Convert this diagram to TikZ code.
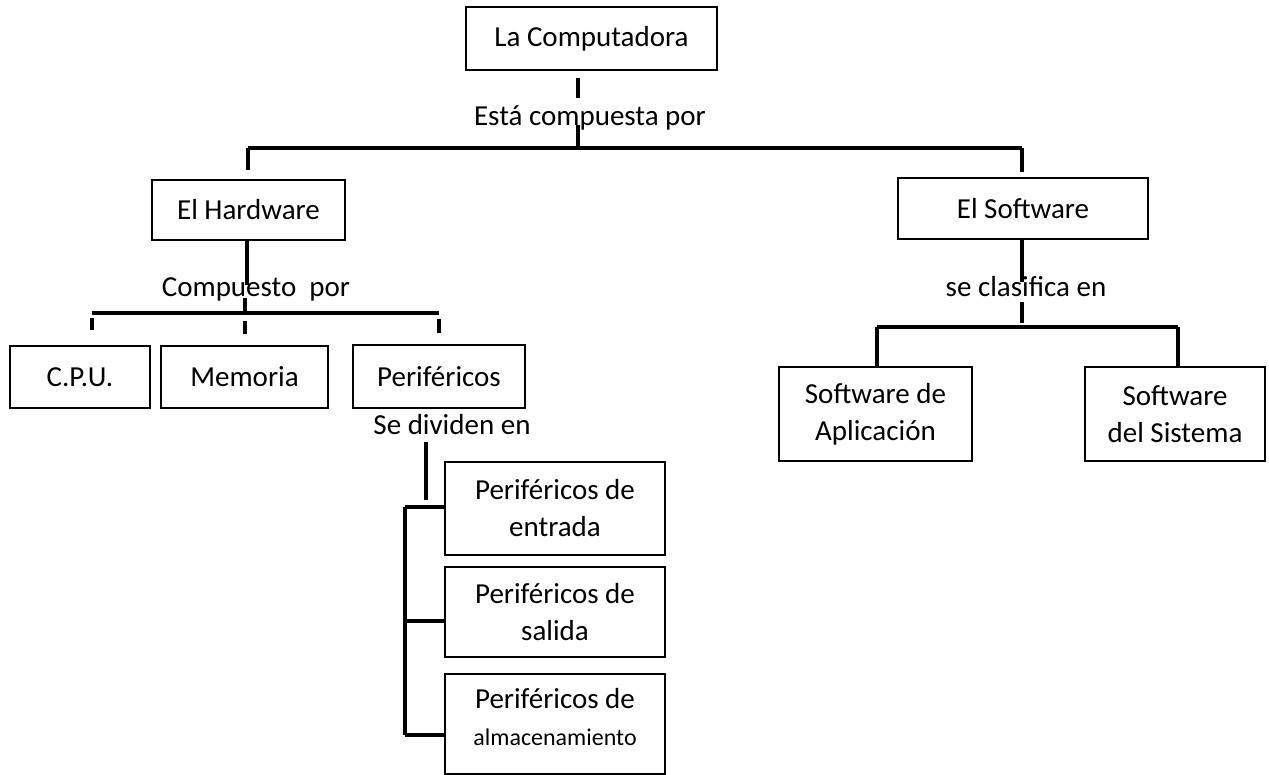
\documentclass[tikz,border=0pt]{standalone}
\usepackage{fontspec}
\setmainfont{Carlito}
\begin{document}
\begin{tikzpicture}[x=1pt,y=-1pt,
		caja/.style={draw, line width=1.5pt, inner sep=0pt, align=center, font=\fontsize{29}{37}\selectfont},
		rotulo/.style={inner sep=0pt, anchor=base, font=\fontsize{29}{37}\selectfont},
		enlace/.style={line width=3.5pt}]
		\useasboundingbox (0,0) rectangle (1269,775);
		
		% cajas
		\node[caja, minimum width=251pt, minimum height=63pt] (compu) at (591.5,38.5) {La Computadora};
		\node[caja, minimum width=193pt, minimum height=60pt] (hard) at (248.5,210) {El Hardware};
		\node[caja, minimum width=250pt, minimum height=61pt] (soft) at (1023,208.5) {El Software};
		
		\node[caja, minimum width=140pt, minimum height=62pt] (cpu) at (80,377) {C.P.U.};
		\node[caja, minimum width=167pt, minimum height=62pt] (memo) at (244.5,377) {Memoria};
		\node[caja, minimum width=172pt, minimum height=63pt] (peri) at (439,376.5) {Periféricos};
		
		\node[caja, minimum width=220pt, minimum height=93pt] (p-entrada) at (555,508.5) {Periféricos de\\entrada};
		\node[caja, minimum width=220pt, minimum height=90pt] (p-salida) at (555,612) {Periféricos de\\salida};
		\node[caja, minimum width=220pt, minimum height=100pt, text depth=14pt] (p-almac) at (555,724) {Periféricos de\\{\fontsize{24}{31}\selectfont almacenamiento}};
		
		\node[caja, minimum width=193pt, minimum height=94pt] (s-aplic) at (875.5,414) {Software de\\Aplicación};
		\node[caja, minimum width=180pt, minimum height=94pt] (s-sist) at (1175,414) {Software\\del Sistema};
		
		% rotulos
		\node[rotulo] (r-compuesta) at (590,126) {Está compuesta por};
		\node[rotulo] (r-compuesto) at (256,297) {Compuesto\ \ por};
		\node[rotulo] (r-dividen) at (452,434) {Se dividen en};
		\node[rotulo] (r-clasifica) at (1026,297) {se clasifica en};
		
		% puntos de union
		\coordinate (b1-l) at (248,148);
		\coordinate (b1-m) at (578,148);
		\coordinate (b1-r) at (1022,148);
		\coordinate (b2-l) at (92,313);
		\coordinate (b2-m) at (245,313);
		\coordinate (b2-r) at (439,313);
		\coordinate (b3-l) at (877,327);
		\coordinate (b3-m) at (1022,327);
		\coordinate (b3-r) at (1178,327);
		\coordinate (c-top) at (405,507);
		\coordinate (c-mid) at (405,621);
		\coordinate (c-bot) at (405,735);
		
		% la computadora
		\draw[enlace] (578,78) -- (578,98);
		\draw[enlace] (b1-m) -- (578,125);
		\draw[enlace] (b1-l) -- (b1-r);
		\draw[enlace] (b1-l) -- (248,170);
		\draw[enlace] (b1-r) -- (1022,172);
		
		% el hardware
		\draw[enlace] (hard.south -| 247,0) -- (247,285);
		\draw[enlace] (245,298) -- (b2-m);
		\draw[enlace] (b2-l) -- (b2-r);
		\draw[enlace] (92,318) -- (92,330);
		\draw[enlace] (245,321) -- (245,334);
		\draw[enlace] (439,319) -- (439,333);
		
		% perifericos
		\draw[enlace] (426,442) -- (426,500);
		\draw[enlace] (c-top) -- (c-bot);
		\draw[enlace] (c-top) -- (c-top -| p-entrada.west);
		\draw[enlace] (c-mid) -- (c-mid -| p-salida.west);
		\draw[enlace] (c-bot) -- (c-bot -| p-almac.west);
		
		% el software
		\draw[enlace] (soft.south -| b3-m) -- (1022,282);
		\draw[enlace] (1022,302) -- (1022,323);
		\draw[enlace] (b3-l) -- (b3-r);
		\draw[enlace] (b3-l) -- (b3-l |- s-aplic.north);
		\draw[enlace] (b3-r) -- (b3-r |- s-sist.north);
	\end{tikzpicture}
\end{document}
